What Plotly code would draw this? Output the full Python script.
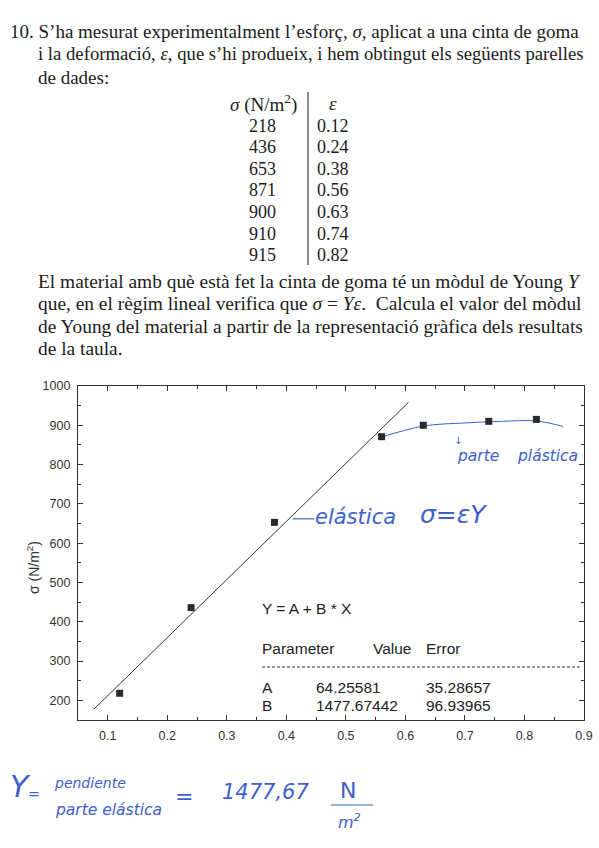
import plotly.graph_objects as go

W, H = 599, 848

# ---------------- data ----------------
sigma = [218, 436, 653, 871, 900, 910, 915]          # N/m^2
eps = [0.12, 0.24, 0.38, 0.56, 0.63, 0.74, 0.82]

fit_A = 64.25581
fit_A_err = 35.28657
fit_B = 1477.67442
fit_B_err = 96.93965
fit_eps_range = [0.077, 0.605]

# hand-drawn curve through the plastic part
plastic_eps = [0.56, 0.63, 0.70, 0.76, 0.82, 0.865]
plastic_sigma = [870, 898, 906, 910, 911, 897]

# hand-drawn arrow pointing at the elastic line
arrow_eps = [0.411, 0.447]
arrow_sigma = [662, 662]

x_range = [0.05, 0.9]
y_range = [150, 1000]

header_lines = [
    "10. S’ha mesurat experimentalment l’esforç, <i>σ</i>, aplicat a una cinta de goma",
    "i la deformació, <i>ε</i>, que s’hi produeix, i hem obtingut els següents parelles",
    "de dades:",
]
para_lines = [
    "El material amb què està fet la cinta de goma té un mòdul de Young <i>Y</i>",
    "que, en el règim lineal verifica que <i>σ</i> = <i>Yε</i>.  Calcula el valor del mòdul",
    "de Young del material a partir de la representació gràfica dels resultats",
    "de la taula.",
]

# ---------------- helpers ----------------
TEXT_DY = 1

def PX(x):
    return x / W

def PY(y):
    return 1 - y / H

SERIF = "Liberation Serif"
SANS = "Liberation Sans"
HAND = "DejaVu Sans"
INK = "#1c1c1c"
BLUE = "#3d5fcf"

fig = go.Figure()

fig.add_trace(go.Scatter(
    x=fit_eps_range, y=[fit_A + fit_B * e for e in fit_eps_range],
    mode="lines", line=dict(color="#333333", width=1), hoverinfo="skip"))
fig.add_trace(go.Scatter(
    x=plastic_eps, y=plastic_sigma, mode="lines",
    line=dict(color=BLUE, width=1, shape="spline", smoothing=1.0), hoverinfo="skip"))
fig.add_trace(go.Scatter(
    x=arrow_eps, y=arrow_sigma, mode="lines",
    line=dict(color=BLUE, width=1.2), hoverinfo="skip"))
fig.add_trace(go.Scatter(
    x=eps, y=sigma, mode="markers",
    marker=dict(symbol="square", size=7, color="#2a2a2a")))

ann = []

def text(t, x, y, size, family=SERIF, color=INK, xanchor="left", yanchor="middle", angle=0, style="normal"):
    ann.append(dict(text=t, x=PX(x), y=PY(y + TEXT_DY), xref="paper", yref="paper",
                    xanchor=xanchor, yanchor=yanchor, showarrow=False, textangle=angle,
                    font=dict(family=family, size=size, color=color, style=style)))

# header paragraph
text(header_lines[0], 8, 30, 19)
text(header_lines[1], 36, 53, 18.7)
text(header_lines[2], 36, 76, 19)

# table
text("<i>σ</i> (N/m<sup>2</sup>)", 263, 103, 19, xanchor="center")
text("<i>ε</i>", 333, 103, 19, xanchor="center")
row_y = [125, 146, 168, 189, 211, 233, 254]
for s, e, yy in zip(sigma, eps, row_y):
    text(str(s), 262, yy, 18, xanchor="center")
    text(f"{e:.2f}", 333, yy, 18, xanchor="center")

# second paragraph
for ln, yy in zip(para_lines, [281, 303, 325, 347]):
    text(ln, 36, yy, 19.4)

# axis title
text("σ (N/m<sup>2</sup>)", 33, 567, 14, family=SANS, color="#333333", xanchor="center", angle=-90)

# fit results box
BOX = 15.5
text("Y = A + B * X", 260, 607, BOX, family=SANS, color="#222222")
text("Parameter", 260, 647, BOX, family=SANS, color="#222222")
text("Value", 371, 647, BOX, family=SANS, color="#222222")
text("Error", 424, 647, BOX, family=SANS, color="#222222")
text("A", 260, 686, BOX, family=SANS, color="#222222")
text(f"{fit_A:.5f}", 314, 686, BOX, family=SANS, color="#222222")
text(f"{fit_A_err:.5f}", 424, 686, BOX, family=SANS, color="#222222")
text("B", 260, 704, BOX, family=SANS, color="#222222")
text(f"{fit_B:.5f}", 314, 704, BOX, family=SANS, color="#222222")
text(f"{fit_B_err:.5f}", 424, 704, BOX, family=SANS, color="#222222")

# handwritten notes
text("elástica", 313, 516, 21, family=HAND, color=BLUE, style="italic")
text("σ=εY", 418, 513, 25, family=HAND, color=BLUE, style="italic")
text("↓", 458, 440, 10, family=HAND, color=BLUE, xanchor="center")
text("parte", 455, 455, 15.5, family=HAND, color=BLUE, style="italic")
text("plástica", 515, 455, 15.5, family=HAND, color=BLUE, style="italic")

text("Y", 8, 785, 30, family=HAND, color=BLUE, style="italic")
text("=", 26, 793, 14, family=HAND, color=BLUE)
text("pendiente", 52, 782, 14, family=HAND, color=BLUE, style="italic")
text("parte elástica", 53, 809, 15.5, family=HAND, color=BLUE, style="italic")
text("=", 184, 795, 22, family=HAND, color=BLUE, xanchor="center")
text("1477,67", 220, 791, 21, family=HAND, color=BLUE, style="italic")
text("N", 348, 789, 22, family=HAND, color=BLUE, xanchor="center")
text("m<sup>2</sup>", 349, 820, 16, family=HAND, color=BLUE, xanchor="center", style="italic")

shapes = [
    dict(type="line", xref="paper", yref="paper", x0=PX(308), x1=PX(308), y0=PY(92), y1=PY(265),
         line=dict(color=INK, width=1)),
    dict(type="line", xref="paper", yref="paper", x0=PX(262), x1=PX(581), y0=PY(667), y1=PY(667),
         line=dict(color="#333333", width=1, dash="3px,2px")),
    dict(type="line", xref="paper", yref="paper", x0=PX(331), x1=PX(373), y0=PY(805), y1=PY(805),
         line=dict(color=BLUE, width=1.2)),
]

axis_common = dict(showline=True, linecolor="#333333", linewidth=1.3, mirror="allticks",
                   ticks="inside", ticklen=5, tickwidth=1, tickcolor="#333333",
                   showgrid=False, zeroline=False,
                   tickfont=dict(family=SANS, size=12.5, color="#333333"))

fig.update_layout(
    width=W, height=H, margin=dict(l=0, r=0, t=0, b=0, autoexpand=False),
    paper_bgcolor="white", plot_bgcolor="white", showlegend=False,
    xaxis=dict(domain=[PX(78), PX(584)], range=x_range, dtick=0.1, tick0=0.1,
               minor=dict(ticks="inside", ticklen=3, dtick=0.05, tickcolor="#333333"),
               ticklabelstandoff=4, **axis_common),
    yaxis=dict(domain=[PY(720), PY(386)], range=y_range, dtick=100, tick0=0,
               minor=dict(ticks="inside", ticklen=3, dtick=50, tickcolor="#333333"),
               ticklabelstandoff=4, **axis_common),
    annotations=ann, shapes=shapes,
)

fig.write_html("out.html", config={"displayModeBar": False},
               post_script="document.body.style.margin='0';document.body.style.overflow='hidden';")
